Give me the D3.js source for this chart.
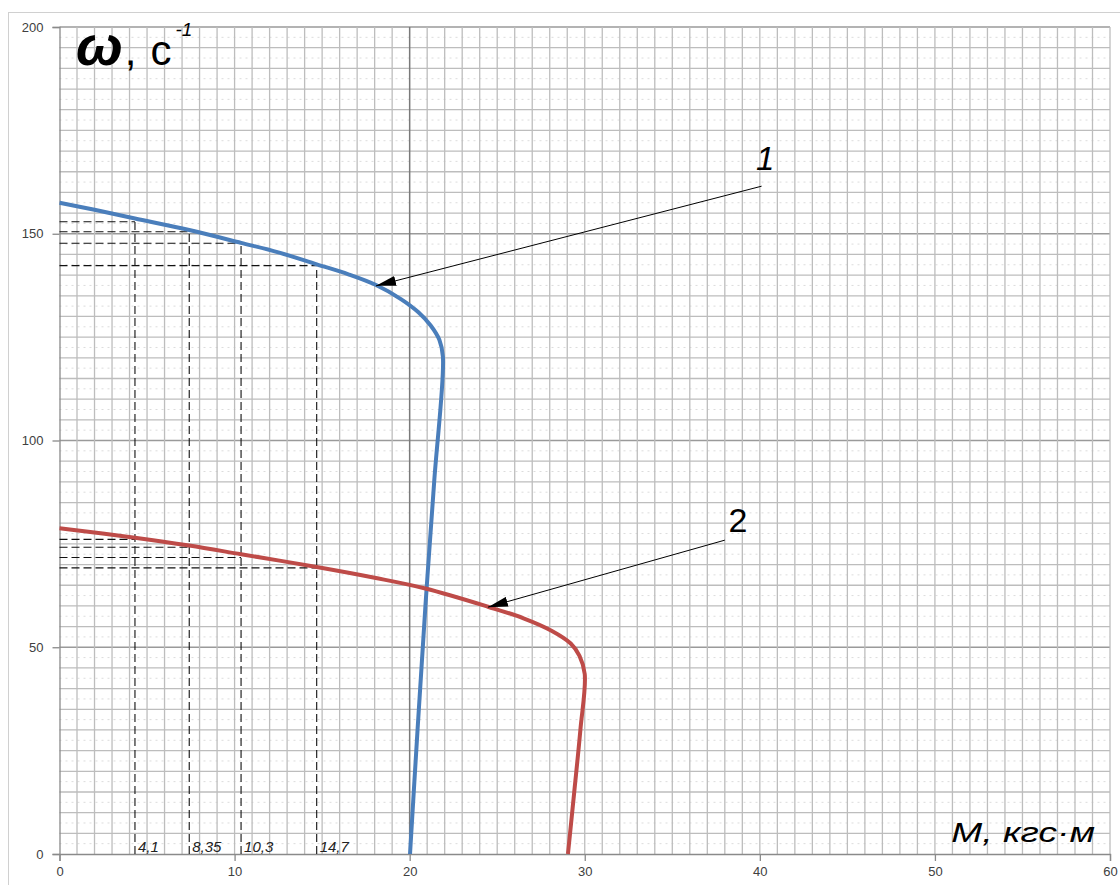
<!DOCTYPE html>
<html lang="ru">
  <head>
    <meta charset="utf-8">
    <title>Механические характеристики</title>
    <style>
    body { margin: 0; background: #fff; }
    .tick text { font: 13px "Liberation Sans", Arial, sans-serif; fill: #404040; }
    </style>
    <script type="text/javascript" src="https://cdn.jsdelivr.net/npm/d3@7/dist/d3.min.js"></script>
  </head>
  <body>
    <script type="text/javascript">

      // Данные
      var xTicks = [0, 10, 20, 30, 40, 50, 60];
      var yTicks = [0, 50, 100, 150, 200];

      // кривая 1 (синяя): [M, ω]
      var curve1 = [[0, 157.5], [2, 155.8], [4.31, 153.7], [7.41, 150.9], [10.37, 147.8],
        [12.5, 145.5], [14.69, 142.6], [16.5, 140.2], [18.08, 137.6], [19.5, 134.2],
        [20.5, 131.0], [21.2, 127.8], [21.7, 124.3], [21.9, 120.2], [21.4, 90], [20.9, 60],
        [20.45, 30], [20.02, 0]];

      // кривая 2 (красная)
      var curve2 = [[0, 78.8], [4.31, 76.5], [7.41, 74.6], [10.37, 72.5], [14.69, 69.4],
        [18, 66.8], [20.9, 64.2], [24.47, 59.8], [26.5, 57.0], [28.1, 54.0], [29.2, 50.9],
        [29.7, 47.9], [30.0, 43.5], [29.75, 30], [29.4, 15], [29.04, 0]];

      // пунктирные отметки
      var markX = [4.31, 7.41, 10.37, 14.69];
      var markLabels = ["4,1", "8,35", "10,3", "14,7"];
      var markW1 = [152.9, 150.5, 147.7, 142.3];
      var markW2 = [76.1, 74.2, 71.7, 69.2];

      // выноски: от, до, подпись
      var callouts = [
        { label: "1", from: [40.1, 161.5], to: [18.08, 137.4], at: [40.3, 165.4], italic: true },
        { label: "2", from: [38.0, 75.9], to: [24.47, 59.7], at: [38.75, 77.9], italic: false }
      ];

      var width = 1120, height = 885;
      var svg = d3.select("body").append("svg")
          .attr("width", width)
          .attr("height", height);

      svg.append("rect")
          .attr("x", 8.5).attr("y", 12.5)
          .attr("width", 1130).attr("height", 900)
          .attr("fill", "#fff")
          .attr("stroke", "#d0d0d0");

      var x = d3.scaleLinear().domain([0, 60]).range([59.5, 1110]);
      var y = d3.scaleLinear().domain([0, 200]).range([854, 27]);

      var grid = svg.append("g");

      // мелкая пунктирная сетка (через 2,5)
      grid.selectAll("line.dot")
        .data(d3.range(2.5, 200, 5))
        .enter().append("line")
        .attr("x1", x(0)).attr("x2", x(60))
        .attr("y1", d => y(d)).attr("y2", d => y(d))
        .attr("stroke", "#dcdcdc")
        .attr("stroke-dasharray", "2,4");

      // горизонтальные линии через 5
      grid.selectAll("line.h")
        .data(d3.range(5, 201, 5))
        .enter().append("line")
        .attr("x1", x(0)).attr("x2", x(60))
        .attr("y1", d => y(d)).attr("y2", d => y(d))
        .attr("stroke", d => d % 50 === 0 ? "#9a9a9a" : "#bdbdbd")
        .attr("stroke-width", 1.3);

      // вертикальные линии через 1
      grid.selectAll("line.v")
        .data(d3.range(1, 61, 1))
        .enter().append("line")
        .attr("x1", d => x(d)).attr("x2", d => x(d))
        .attr("y1", y(0)).attr("y2", y(200))
        .attr("stroke", d => d === 20 ? "#7a7a7a" : "#bdbdbd")
        .attr("stroke-width", d => d === 20 ? 1.5 : 1.3);

      // оси
      svg.append("g")
          .attr("transform", "translate(" + x(0) + ",0)")
          .call(d3.axisLeft(y).tickValues(yTicks).tickSize(7).tickPadding(9))
          .call(g => g.selectAll("path, line").attr("stroke", "#8a8a8a").attr("stroke-width", 1.3));

      svg.append("g")
          .attr("transform", "translate(0," + y(0) + ")")
          .call(d3.axisBottom(x).tickValues(xTicks).tickSize(7).tickPadding(6))
          .call(g => g.selectAll("path, line").attr("stroke", "#8a8a8a").attr("stroke-width", 1.3));

      // пунктир
      var dash = svg.append("g")
          .attr("stroke", "#111")
          .attr("stroke-width", 1.1)
          .attr("stroke-dasharray", "8,4")
          .attr("fill", "none");

      markX.forEach(function(m, i) {
        dash.append("line")
            .attr("x1", x(m)).attr("x2", x(m))
            .attr("y1", y(0)).attr("y2", y(markW1[i]));
        dash.append("line")
            .attr("x1", x(0)).attr("x2", x(m))
            .attr("y1", y(markW1[i])).attr("y2", y(markW1[i]));
        dash.append("line")
            .attr("x1", x(0)).attr("x2", x(m))
            .attr("y1", y(markW2[i])).attr("y2", y(markW2[i]));
      });

      svg.selectAll("text.mark")
        .data(markX)
        .enter().append("text")
        .attr("x", d => x(d) + 3)
        .attr("y", 852)
        .attr("font-family", "Liberation Sans, Arial, sans-serif")
        .attr("font-style", "italic")
        .attr("font-size", 15)
        .attr("fill", "#222")
        .text((d, i) => markLabels[i]);

      // кривые
      var line = d3.line()
          .x(d => x(d[0]))
          .y(d => y(d[1]))
          .curve(d3.curveCatmullRom.alpha(0.5));

      svg.append("path")
          .attr("d", line(curve1))
          .attr("fill", "none")
          .attr("stroke", "#4a7ebb")
          .attr("stroke-width", 4);

      svg.append("path")
          .attr("d", line(curve2))
          .attr("fill", "none")
          .attr("stroke", "#be4b48")
          .attr("stroke-width", 4);

      // выноски
      svg.append("defs").append("marker")
          .attr("id", "arrow")
          .attr("viewBox", "0 0 20 10")
          .attr("refX", 20).attr("refY", 5)
          .attr("markerWidth", 20).attr("markerHeight", 10)
          .attr("markerUnits", "userSpaceOnUse")
          .attr("orient", "auto")
        .append("path")
          .attr("d", "M0,0 L20,5 L0,10 Z")
          .attr("fill", "#000");

      callouts.forEach(function(c) {
        svg.append("line")
            .attr("x1", x(c.from[0])).attr("y1", y(c.from[1]))
            .attr("x2", x(c.to[0])).attr("y2", y(c.to[1]))
            .attr("stroke", "#000")
            .attr("stroke-width", 1)
            .attr("marker-end", "url(#arrow)");
        svg.append("text")
            .attr("x", x(c.at[0])).attr("y", y(c.at[1]))
            .attr("text-anchor", "middle")
            .attr("font-family", "Liberation Sans, Arial, sans-serif")
            .attr("font-style", c.italic ? "italic" : "normal")
            .attr("font-size", c.italic ? 33 : 34)
            .attr("fill", "#000")
            .text(c.label);
      });

      // подписи осей
      var yTitle = svg.append("text")
          .attr("x", 76).attr("y", 65)
          .attr("font-family", "Liberation Sans, Arial, sans-serif")
          .attr("fill", "#000");
      yTitle.append("tspan")
          .attr("font-size", 56).attr("font-weight", "bold").attr("font-style", "italic")
          .text("ω");
      yTitle.append("tspan")
          .attr("font-size", 42)
          .attr("dx", 2)
          .text(",");
      yTitle.append("tspan")
          .attr("font-size", 42)
          .attr("dx", 14)
          .text("с");
      yTitle.append("tspan")
          .attr("font-size", 19).attr("font-style", "italic")
          .attr("dx", 4).attr("dy", -29)
          .text("-1");

      svg.append("text")
          .attr("transform", "translate(1095,842) scale(1.33,1)")
          .attr("text-anchor", "end")
          .attr("font-family", "Liberation Sans, Arial, sans-serif")
          .attr("font-style", "italic")
          .attr("font-size", 28)
          .attr("fill", "#000")
          .text("M, кгс·м");

    </script>
  </body>
</html>
